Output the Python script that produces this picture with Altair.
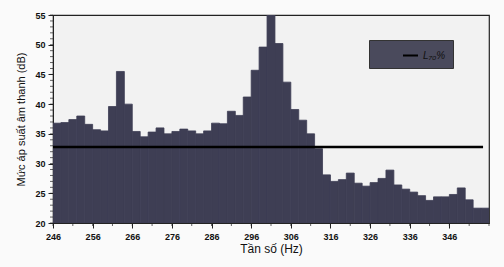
import altair as alt
import pandas as pd

# bin start frequencies (Hz), bin width 2 Hz
freq_start = [246, 248, 250, 252, 254, 256, 258, 260, 262, 264,
              266, 268, 270, 272, 274, 276, 278, 280, 282, 284,
              286, 288, 290, 292, 294, 296, 298, 300, 302, 304,
              306, 308, 310, 312, 314, 316, 318, 320, 322, 324,
              326, 328, 330, 332, 334, 336, 338, 340, 342, 344,
              346, 348, 350, 352, 354]
level_db = [36.8, 36.9, 37.4, 38.0, 36.6, 35.7, 35.5, 39.6, 45.5, 40.0,
            35.4, 34.5, 35.3, 36.0, 35.0, 35.4, 35.8, 35.5, 35.0, 35.5,
            36.8, 36.7, 38.8, 38.1, 41.2, 45.7, 49.6, 55.5, 50.2, 43.7,
            39.1, 37.3, 35.0, 32.5, 28.1, 27.0, 27.3, 28.4, 26.7, 26.2,
            26.8, 27.5, 28.9, 26.4, 25.7, 25.2, 24.6, 23.8, 24.4, 24.4,
            24.8, 25.9, 23.9, 22.5, 22.5]
bin_width = 2
l70_level = 32.8
l70_label = "L₇₀%"

x_major = [246, 256, 266, 276, 286, 296, 306, 316, 326, 336, 346]
x_minor = list(range(246, 357, 5))
y_major = [20, 25, 30, 35, 40, 45, 50, 55]
y_minor = list(range(20, 56, 1))

bars_df = pd.DataFrame({
    "f0": freq_start,
    "f1": [f + bin_width for f in freq_start],
    "db": level_db,
})
line_df = pd.DataFrame({"x": [freq_start[0]], "x2": [354.5], "y": [l70_level], "series": [l70_label]})
xminor_df = pd.DataFrame({"v": x_minor})
yminor_df = pd.DataFrame({"v": y_minor})

xscale = alt.Scale(domain=[246, 356], nice=False, zero=False)
yscale = alt.Scale(domain=[20, 55], nice=False, zero=False)

bar_color = "#3e3e54"
lab = dict(labelFont="Liberation Sans", labelFontSize=9, labelFontWeight="bold", labelColor="#111",
           labelOverlap=False, labelFlush=False, domainColor="#222", tickColor="#222", grid=False)

x_axis = alt.Axis(
    values=x_major, title="Tần số (Hz)", tickSize=5,
    titleFont="Liberation Sans", titleFontSize=12, titleFontWeight="normal", titleColor="#111",
    titlePadding=2, labelPadding=4, **lab)
y_axis = alt.Axis(
    values=y_major, title="Mức áp suất âm thanh (dB)", tickSize=5,
    titleFont="Liberation Sans", titleFontSize=11, titleFontWeight="normal", titleColor="#111",
    titlePadding=8, labelPadding=3, **lab)

bars = alt.Chart(bars_df).mark_rect(color=bar_color, stroke=bar_color, strokeWidth=0.8, clip=True).encode(
    x=alt.X("f0:Q", scale=xscale, axis=x_axis),
    x2="f1:Q",
    y=alt.Y("db:Q", scale=yscale, axis=y_axis),
    y2=alt.datum(20),
)

# minor ticks at axis positions
xminor = alt.Chart(xminor_df).mark_tick(color="#222", size=3, thickness=1, orient="vertical").encode(
    x=alt.X("v:Q", scale=xscale, axis=x_axis), y=alt.value(209.5))
yminor = alt.Chart(yminor_df).mark_tick(color="#222", size=3, thickness=1, orient="horizontal").encode(
    y=alt.Y("v:Q", scale=yscale, axis=y_axis), x=alt.value(-1.5))

rule = alt.Chart(line_df).mark_rule(strokeWidth=2.5).encode(
    x=alt.X("x:Q", scale=xscale, axis=x_axis), x2="x2:Q", y=alt.Y("y:Q", scale=yscale, axis=y_axis),
    color=alt.Color("series:N", scale=alt.Scale(range=["#000000"]), legend=alt.Legend(
        title=None, orient="none", legendX=316, legendY=25,
        fillColor="#4a4a5c", strokeColor="#333", padding=7,
        symbolType="stroke", symbolSize=225, symbolStrokeWidth=2, symbolOffset=26,
        labelFont="Liberation Sans", labelFontSize=10, labelFontStyle="italic", labelColor="#111")),
)

chart = alt.layer(bars, rule, xminor, yminor).properties(
    width=436, height=208,
    autosize=alt.AutoSizeParams(type="none"),
    padding={"left": 53, "top": 15, "right": 15, "bottom": 44},
    background="#fafafa",
).configure_view(stroke="#222", strokeWidth=1.2, fill="#f2f2f2").configure_axis(labelOverlap=False)

chart.save("out.html", embed_options={"renderer": "svg", "actions": False})
